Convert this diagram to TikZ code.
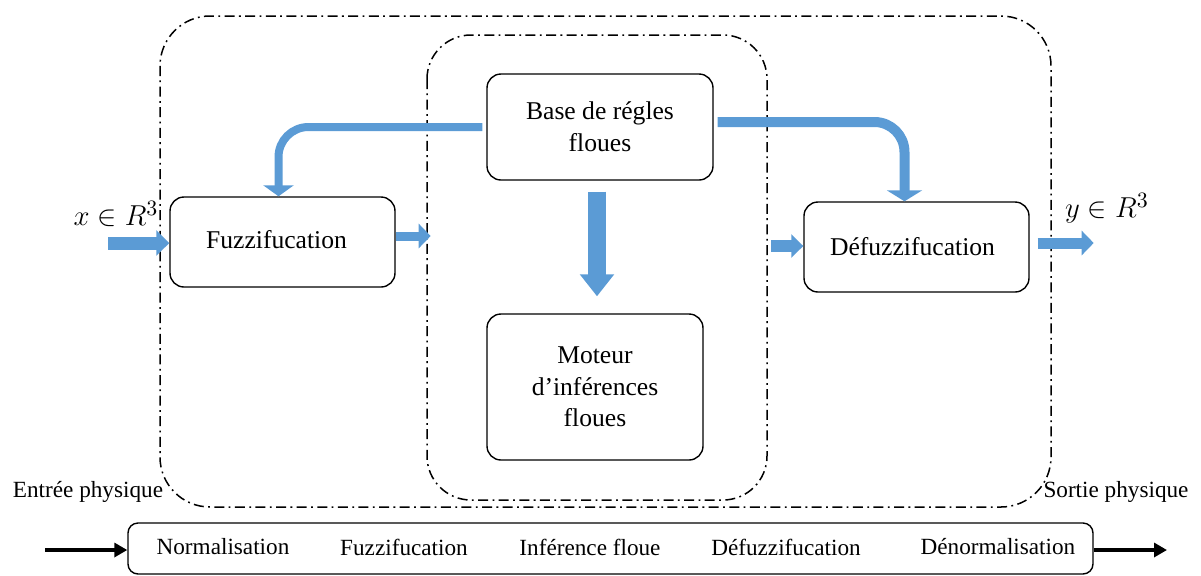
\documentclass[tikz,border=0pt]{standalone}
\usepackage{amsmath}
\usepackage{fontspec}
\setmainfont{Liberation Serif}
\usepackage{tikz}
\usetikzlibrary{arrows.meta}

\definecolor{bleu}{HTML}{5B9BD5}

\tikzset{
  fleche/.style n args={3}{draw=bleu, line width=#1, -{Triangle[length=#2, width=#3]}},
  noire/.style={draw=black, line width=2pt, -{Triangle[length=6.5pt, width=7pt]}}
}

\begin{document}
\begin{tikzpicture}[x=0.5pt, y=-0.5pt, semithick]

    \tikzstyle{bloc}=[draw=black, fill=white, rounded corners=7pt, line width=0.7pt, align=center, font=\fontsize{12.8}{15.8}\selectfont]
    \tikzstyle{cadre}=[line width=0.75pt, dash pattern=on 5pt off 2.2pt on 0.9pt off 2.2pt]
    \tikzstyle{etape}=[font=\fontsize{11.6}{14}\selectfont]
    \tikzstyle{maths}=[font=\fontsize{15}{18}\selectfont]

    \useasboundingbox (0,0) rectangle (1201,575);

    % cadres en pointilles
    \draw[cadre, rounded corners=25pt] (160,16) rectangle (1051,507);
    \draw[cadre, rounded corners=22pt] (427,35) rectangle (767,500);

    \node[bloc, minimum width=113pt, minimum height=53pt]   (regles) at (600,127)   {Base de régles\\floues};
    \node[bloc, minimum width=112.5pt, minimum height=45pt] (fuzz)   at (282.5,242) {Fuzzifucation\hspace*{6pt}\rule[-3pt]{0pt}{0pt}};
    \node[bloc, minimum width=112.5pt, minimum height=45pt] (defuzz) at (916.5,247) {Défuzzifucation\hspace*{4pt}};
    \node[bloc, minimum width=108pt, minimum height=73pt]   (moteur) at (595,387)   {Moteur\\d’inférences\\floues};

    \node[maths] (xin)  at (116,214)  {$x \in R^3$};
    \node[maths] (yout) at (1107,208) {$y \in R^3$};

    \node[etape] (entree) at (88,492)   {Entrée physique};
    \node[etape] (sortie) at (1116,492) {Sortie physique};

    % chaine de traitement
    \node[draw, rounded corners=5pt, line width=0.7pt, minimum width=482.5pt, minimum height=25.5pt] (chaine) at (610.5,548.5) {};
    \node[etape] (norm)   at (223,547) {Normalisation};
    \node[etape] (fz)     at (404,547) {Fuzzifucation};
    \node[etape] (inf)    at (590,547) {Inférence floue};
    \node[etape] (dfz)    at (786,547) {Défuzzifucation};
    \node[etape] (denorm) at (998,547) {Dénormalisation};

    \coordinate (gauche) at (45,550);
    \coordinate (droite) at (1167,550);
    \coordinate (xa)     at (108,243);
    \coordinate (da)     at (771,246);

    \draw[noire] (gauche) -- (gauche -| chaine.west);
    \draw[noire] (chaine.east |- droite) -- (droite);

    % fleches bleues
    \draw[fleche={6.5pt}{6.5pt}{12.5pt}] (xa) -- (xa -| fuzz.west);
    \draw[fleche={4.5pt}{6pt}{12pt}] ([yshift=3pt]fuzz.east) -- ++(35,0);
    \draw[fleche={6pt}{6pt}{11.5pt}] (da) -- (da -| defuzz.west);
    \draw[fleche={5.5pt}{6pt}{12pt}, shorten <=4pt] ([yshift=2pt]defuzz.east) -- ++(64,0);
    \draw[fleche={9pt}{11pt}{16.5pt}, shorten <=5.5pt, shorten >=8.5pt]
        ([xshift=-1.5pt]regles.south) -- ([xshift=-1.5pt]regles.south |- moteur.north);
    \draw[fleche={4pt}{5.5pt}{15pt}, rounded corners=15pt, shorten <=2pt]
        (regles.west) -| ([xshift=-2pt]fuzz.north);
    \draw[fleche={5pt}{5.5pt}{17.5pt}, rounded corners=15pt, shorten <=2pt]
        ([yshift=2.5pt]regles.east) -| ([xshift=-6pt]defuzz.north);

\end{tikzpicture}
\end{document}
